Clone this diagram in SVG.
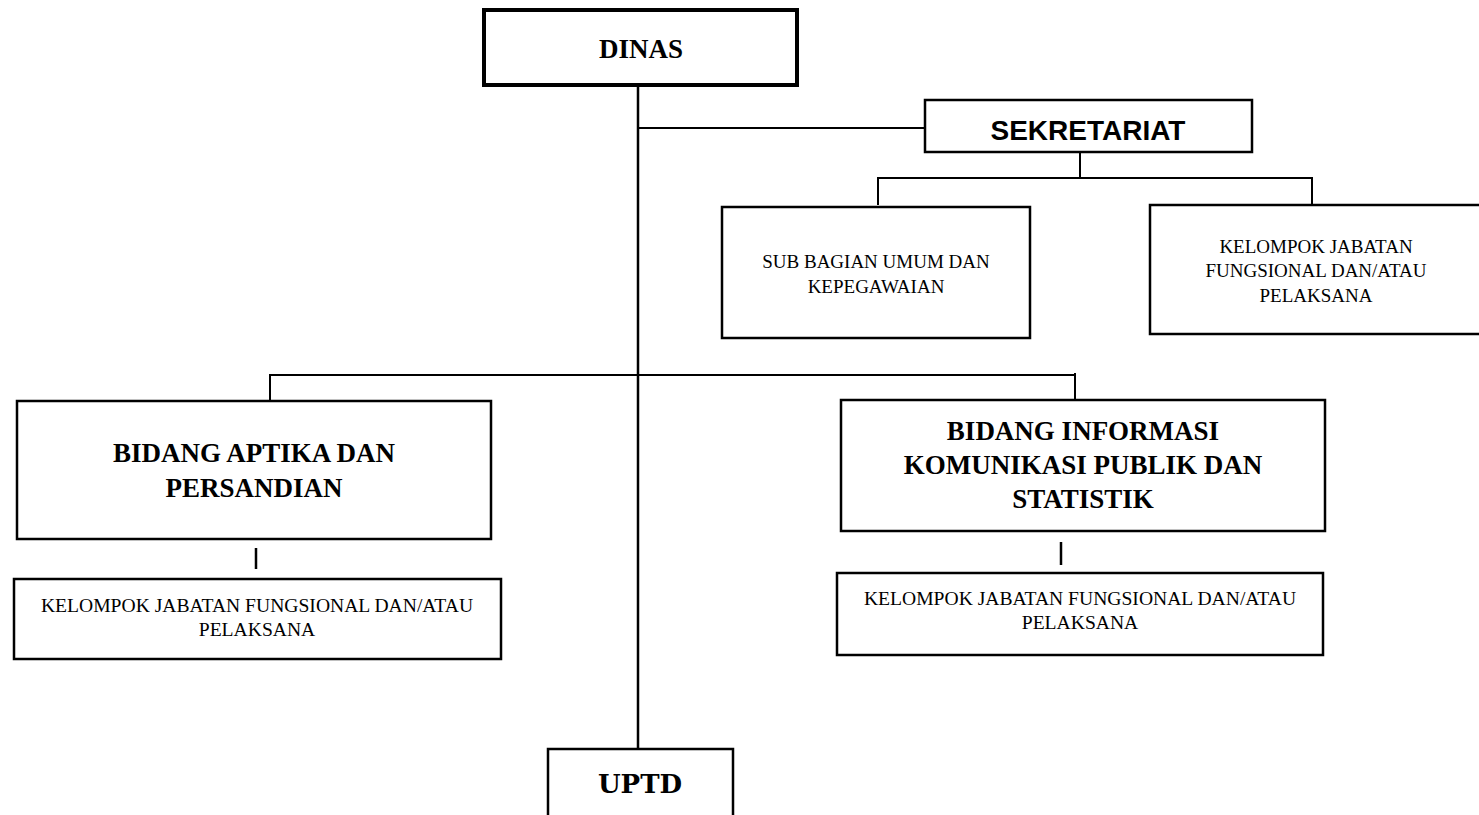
<svg xmlns="http://www.w3.org/2000/svg" width="1479" height="815" viewBox="0 0 1479 815">
<style>
.box{fill:#fff;stroke:#000;stroke-width:2.5}
.thick{stroke-width:4}
.ln{stroke:#000;stroke-width:2;fill:none}
.t{font-family:"Liberation Serif",serif;fill:#000;text-anchor:middle}
.b{font-weight:bold}
.s{font-size:19px}
.s2{font-size:19.6px}
.big{font-size:27px}
.sans{font-family:"Liberation Sans",Arial,sans-serif;font-weight:bold;font-size:28px;text-anchor:middle;fill:#000}
.slab{font-family:"DejaVu Serif",serif;font-weight:bold;font-size:26px;text-anchor:middle;fill:#000}
</style>
<rect width="1479" height="815" fill="#fff"/>
<g id="connectors">
<line class="ln" x1="638" y1="85" x2="638" y2="749" style="stroke-width:2.5"/>
<line class="ln" x1="638" y1="128" x2="925" y2="128"/>
<line class="ln" x1="1080" y1="152" x2="1080" y2="178"/>
<polyline class="ln" points="878,205 878,178 1312,178 1312,205"/>
<polyline class="ln" points="270,400 270,375 1075,375"/>
<line class="ln" x1="1075" y1="373" x2="1075" y2="400"/>
<line class="ln" x1="256" y1="548" x2="256" y2="569" style="stroke-width:2.5"/>
<line class="ln" x1="1061" y1="542" x2="1061" y2="565" style="stroke-width:2.5"/>
</g>
<g id="dinas">
<rect class="box thick" x="484" y="10" width="313" height="75"/>
<text class="t b" x="641" y="58" style="font-size:27px">DINAS</text>
</g>
<g id="sekretariat">
<rect class="box" x="925" y="100" width="327" height="52"/>
<text class="sans" x="1088" y="140">SEKRETARIAT</text>
</g>
<g id="subbagian">
<rect class="box" x="722" y="207" width="308" height="131"/>
<text class="t s" x="876" y="268">SUB BAGIAN UMUM DAN</text>
<text class="t s" x="876" y="293">KEPEGAWAIAN</text>
</g>
<g id="kelompok-sekretariat">
<rect class="box" x="1150" y="205" width="340" height="129"/>
<text class="t s" x="1316" y="253">KELOMPOK JABATAN</text>
<text class="t s" x="1316" y="277">FUNGSIONAL DAN/ATAU</text>
<text class="t s" x="1316" y="302">PELAKSANA</text>
</g>
<g id="bidang-aptika">
<rect class="box" x="17" y="401" width="474" height="138"/>
<text class="t b big" x="254" y="462">BIDANG APTIKA DAN</text>
<text class="t b big" x="254" y="497">PERSANDIAN</text>
</g>
<g id="kelompok-aptika">
<rect class="box" x="14" y="579" width="487" height="80"/>
<text class="t s2" x="257" y="612">KELOMPOK JABATAN FUNGSIONAL DAN/ATAU</text>
<text class="t s2" x="257" y="636">PELAKSANA</text>
</g>
<g id="bidang-ikp">
<rect class="box" x="841" y="400" width="484" height="131"/>
<text class="t b big" x="1083" y="440">BIDANG INFORMASI</text>
<text class="t b big" x="1083" y="474">KOMUNIKASI PUBLIK DAN</text>
<text class="t b big" x="1083" y="508">STATISTIK</text>
</g>
<g id="kelompok-ikp">
<rect class="box" x="837" y="573" width="486" height="82"/>
<text class="t s2" x="1080" y="605">KELOMPOK JABATAN FUNGSIONAL DAN/ATAU</text>
<text class="t s2" x="1080" y="629">PELAKSANA</text>
</g>
<g id="uptd">
<rect class="box" x="548" y="749" width="185" height="80"/>
<text class="slab" x="640" y="793">UPTD</text>
</g>
</svg>
